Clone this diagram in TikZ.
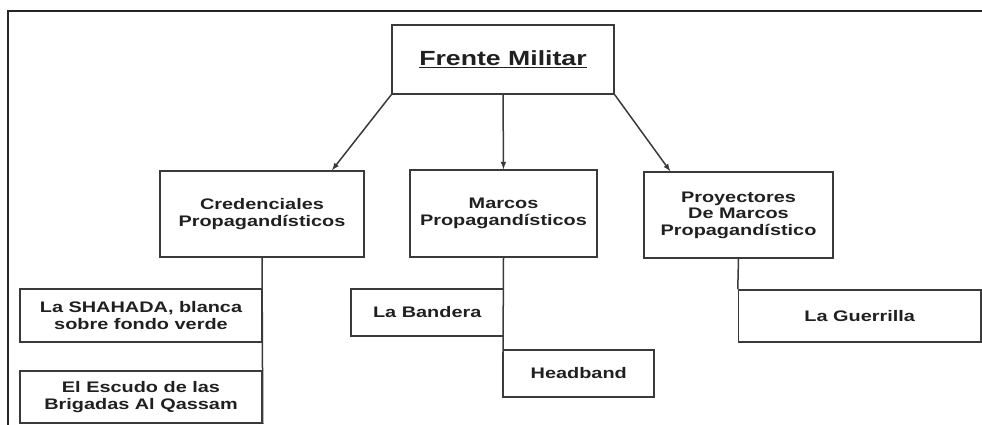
\documentclass[tikz,border=0pt]{standalone}
\usepackage{fontspec}
\setmainfont{Liberation Sans}[FakeStretch=1.3]
\usepackage{xcolor}
\definecolor{linegray}{HTML}{3A3A3A}
\definecolor{textgray}{HTML}{202020}

\begin{document}
\begin{tikzpicture}[x=1pt, y=-1pt, line width=1.5pt,
        main/.style = {draw=linegray, rectangle, inner sep=0pt, align=center, text=textgray,
            font=\bfseries\fontsize{15.3}{16.5}\selectfont},
        frame/.style = {draw=black!85, line width=2.2pt}]
        \useasboundingbox (0,0) rectangle (982,425);

        % outer frame
        \draw[frame] (982,11) -- (8,11) -- (8,425);

        \node[main, minimum width=222pt, minimum height=69pt, font=\bfseries\fontsize{20.5}{22}\selectfont] (fm) at (503,59.5) {\underline{Frente Militar}};
        \node[main, minimum width=204pt, minimum height=86pt] (cp) at (262,214) {Credenciales\\Propagandísticos};
        \node[main, minimum width=187pt, minimum height=87pt] (mp) at (503.5,213.5) {Marcos\\Propagandísticos};
        \node[main, minimum width=189pt, minimum height=86pt] (pm) at (738.5,215) {Proyectores\\De Marcos\\Propagandístico};

        \node[main, minimum width=242pt, minimum height=53pt] (sh) at (141,315.5) {La SHAHADA, blanca\\sobre fondo verde};
        \node[main, minimum width=242pt, minimum height=52pt] (es) at (141,397) {El Escudo de las\\Brigadas Al Qassam};
        \node[main, minimum width=152.5pt, minimum height=47pt] (lb) at (427.25,312.5) {La Bandera};
        \node[main, minimum width=150.5pt, minimum height=47pt] (hb) at (578.75,373.5) {Headband};
        \node[main, minimum width=242.5pt, minimum height=52pt] (lg) at (859.75,316) {La Guerrilla};

        \draw[-latex, draw=linegray] (fm.south west) -- ([xshift=70pt]cp.north);
        \draw[-latex, draw=linegray] (fm.south) -- (mp.north);
        \draw[-latex, draw=linegray] (fm.south east) -- ([xshift=27pt]pm.north west);

        \draw[-, draw=linegray] (cp.south) -- (es.south east);
        \draw[-, draw=linegray] (mp.south) -- (hb.south west);
        \draw[-, draw=linegray] (pm.south) -- (lg.north west);

    \end{tikzpicture}
\end{document}
